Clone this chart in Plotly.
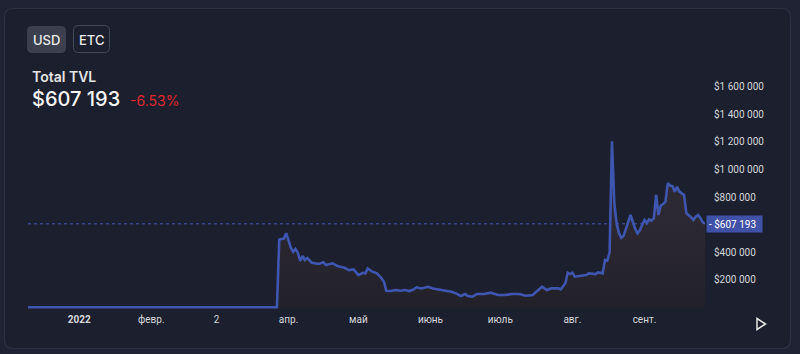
import plotly.graph_objects as go

# ---------------- data ----------------
dates = [
    "2021-12-10", "2022-01-15", "2022-02-15", "2022-03-27",
    "2022-03-28", "2022-03-30", "2022-03-31", "2022-04-02", "2022-04-03", "2022-04-04",
    "2022-04-05", "2022-04-06", "2022-04-07", "2022-04-08", "2022-04-09", "2022-04-11",
    "2022-04-14", "2022-04-16", "2022-04-17", "2022-04-20", "2022-04-22", "2022-04-25",
    "2022-04-27", "2022-04-29", "2022-05-01", "2022-05-03", "2022-05-04", "2022-05-05",
    "2022-05-07", "2022-05-09", "2022-05-11", "2022-05-12", "2022-05-13", "2022-05-15",
    "2022-05-17", "2022-05-19", "2022-05-21", "2022-05-23", "2022-05-25", "2022-05-26",
    "2022-05-28", "2022-05-31", "2022-06-02", "2022-06-05", "2022-06-08", "2022-06-10",
    "2022-06-12", "2022-06-14", "2022-06-16", "2022-06-17", "2022-06-19", "2022-06-21",
    "2022-06-24", "2022-06-27", "2022-06-30", "2022-07-03", "2022-07-06", "2022-07-09",
    "2022-07-12", "2022-07-15", "2022-07-16", "2022-07-19", "2022-07-21", "2022-07-23",
    "2022-07-26", "2022-07-27", "2022-07-29", "2022-07-30", "2022-07-31", "2022-08-01",
    "2022-08-02", "2022-08-05", "2022-08-07", "2022-08-08", "2022-08-11", "2022-08-12",
    "2022-08-14", "2022-08-15", "2022-08-16", "2022-08-17", "2022-08-18", "2022-08-19",
    "2022-08-20", "2022-08-21", "2022-08-22", "2022-08-23", "2022-08-24", "2022-08-25",
    "2022-08-26", "2022-08-27", "2022-08-28", "2022-08-29", "2022-08-30", "2022-08-31",
    "2022-09-01", "2022-09-02", "2022-09-03", "2022-09-04", "2022-09-05", "2022-09-06",
    "2022-09-07", "2022-09-08", "2022-09-09", "2022-09-10", "2022-09-11", "2022-09-12",
    "2022-09-13", "2022-09-14", "2022-09-15", "2022-09-16", "2022-09-17", "2022-09-18",
    "2022-09-19", "2022-09-20", "2022-09-21", "2022-09-22", "2022-09-23", "2022-09-24",
    "2022-09-25", "2022-09-26", "2022-09-27",
]
tvl_usd = [
    3000, 3000, 3000, 3000,
    493000, 500000, 539000, 432000, 405000, 425000,
    396000, 338000, 374000, 345000, 359000, 325000,
    316000, 328000, 309000, 321000, 301000, 288000,
    272000, 277000, 236000, 252000, 248000, 284000,
    260000, 248000, 212000, 187000, 122000, 120000,
    127000, 122000, 127000, 120000, 134000, 147000,
    139000, 151000, 139000, 132000, 120000, 115000,
    103000, 84000, 98000, 84000, 79000, 98000,
    98000, 108000, 91000, 91000, 98000, 98000,
    86000, 91000, 108000, 151000, 127000, 139000,
    139000, 132000, 176000, 253000, 243000, 253000,
    224000, 229000, 236000, 248000, 243000, 255000,
    248000, 345000, 340000, 400000, 1205000, 760000,
    610000, 540000, 505000, 520000, 570000, 611000,
    671000, 620000, 570000, 538000, 560000, 600000,
    635000, 611000, 640000, 630000, 647000, 816000,
    671000, 740000, 750000, 767000, 901000, 885000,
    881000, 840000, 876000, 840000, 830000, 816000,
    683000, 671000, 655000, 635000, 659000, 671000,
    650000, 620000, 607193,
]
x_tick_dates = ["2022-01-01", "2022-02-01", "2022-03-01", "2022-04-01", "2022-05-01",
                "2022-06-01", "2022-07-01", "2022-08-01", "2022-09-01"]
x_tick_labels = ["<b>2022</b>", "февр.", "2", "апр.", "май", "июнь", "июль", "авг.", "сент."]
y_tick_vals = [200000, 400000, 800000, 1000000, 1200000, 1400000, 1600000]
x_range = ["2021-12-10", "2022-09-27"]
y_range = [-31900, 1794000]

last_value = tvl_usd[-1]
change_pct = -6.53


def fmt_money(v):
    return "$" + f"{int(round(v)):,}".replace(",", " ")


# ---------------- geometry helpers ----------------
FW, FH = 800, 354
ML, MR, MT, MB = 28, 95, 60, 42
PW, PH = FW - ML - MR, FH - MT - MB


def px(x):
    return (x - ML) / PW


def py(y):
    return (FH - MB - y) / PH


def rounded_rect(x0, y0, x1, y1, r):
    pts = [
        f"M {px(x0 + r)},{py(y0)}",
        f"L {px(x1 - r)},{py(y0)}",
        f"Q {px(x1)},{py(y0)} {px(x1)},{py(y0 + r)}",
        f"L {px(x1)},{py(y1 - r)}",
        f"Q {px(x1)},{py(y1)} {px(x1 - r)},{py(y1)}",
        f"L {px(x0 + r)},{py(y1)}",
        f"Q {px(x0)},{py(y1)} {px(x0)},{py(y1 - r)}",
        f"L {px(x0)},{py(y0 + r)}",
        f"Q {px(x0)},{py(y0)} {px(x0 + r)},{py(y0)}",
        "Z",
    ]
    return " ".join(pts)


LINE = "#3f56b0"
TXT = "#d6d8de"
FONT = "Roboto"

fig = go.Figure()
fig.add_trace(go.Scatter(
    x=dates, y=tvl_usd, mode="lines",
    line=dict(color=LINE, width=2.6),
    fill="tozeroy",
    fillgradient=dict(type="vertical", start=0, stop=700000,
                      colorscale=[[0, "#22212a"], [1, "#2d2932"]]),
    hoverinfo="skip", showlegend=False,
))

shapes = [
    # card
    dict(type="path", xref="paper", yref="paper", layer="below",
         path=rounded_rect(4.5, 8.5, 790.5, 348.5, 9),
         fillcolor="#1c1f2d", line=dict(color="#2d3143", width=1.2)),
    # USD button (active)
    dict(type="path", xref="paper", yref="paper", layer="above",
         path=rounded_rect(27, 26, 66, 53, 5),
         fillcolor="#3b3f4e", line=dict(width=0)),
    # ETC button (outline)
    dict(type="path", xref="paper", yref="paper", layer="above",
         path=rounded_rect(73.5, 25.5, 109.5, 52.5, 5),
         fillcolor="rgba(0,0,0,0)", line=dict(color="#454a5a", width=1)),
    # last value dotted line
    dict(type="line", xref="paper", yref="y", x0=0, x1=1, y0=last_value, y1=last_value,
         line=dict(color="#4459b8", width=1, dash="dot"), layer="below"),
    # play icon
    dict(type="path", xref="paper", yref="paper", layer="above",
         path=f"M {px(757)},{py(318.5)} L {px(765.5)},{py(324)} L {px(757)},{py(329.5)} Z",
         fillcolor="rgba(0,0,0,0)", line=dict(color="#e6e6e6", width=1.5)),
]

annotations = [
    dict(text="USD", x=px(46.5), y=py(39.5), xref="paper", yref="paper", showarrow=False,
         xanchor="center", yanchor="middle",
         font=dict(family="Inter", size=13, color="#ececec", weight=500)),
    dict(text="ETC", x=px(91.5), y=py(39.5), xref="paper", yref="paper", showarrow=False,
         xanchor="center", yanchor="middle",
         font=dict(family="Inter", size=13, color="#ececec", weight=500)),
    dict(text="Total TVL", x=px(30), y=py(76), xref="paper", yref="paper", showarrow=False,
         xanchor="left", yanchor="middle",
         font=dict(family="Inter", size=14, color="#e4e4e4", weight=600)),
    dict(text=fmt_money(last_value), x=px(30), y=py(99), xref="paper", yref="paper", showarrow=False,
         xanchor="left", yanchor="middle",
         font=dict(family="Inter", size=20, color="#f4f4f4", weight=500)),
    dict(text=f"{change_pct:.2f}%", x=px(128), y=py(100), xref="paper", yref="paper", showarrow=False,
         xanchor="left", yanchor="middle", font=dict(family="Inter", size=14, color="#e0282e")),
    # price label
    dict(text="- " + fmt_money(last_value), x=px(706), y=last_value, xref="paper", yref="y",
         showarrow=False, xanchor="left", yanchor="middle", bgcolor="#3f52a8",
         borderpad=2, width=51, align="left",
         font=dict(family=FONT, size=10, color="#ffffff")),
]

fig.update_layout(
    width=FW, height=FH,
    margin=dict(l=ML, r=MR, t=MT, b=MB),
    paper_bgcolor="#1f2334",
    plot_bgcolor="rgba(0,0,0,0)",
    shapes=shapes,
    annotations=annotations,
    xaxis=dict(type="date", range=x_range, showgrid=False, zeroline=False, showline=False,
               tickvals=x_tick_dates, ticktext=x_tick_labels, ticks="",
               tickfont=dict(family=FONT, size=10, color=TXT), fixedrange=True),
    yaxis=dict(range=y_range, side="right", showgrid=False, zeroline=False, showline=False,
               tickvals=y_tick_vals, ticktext=[fmt_money(v) for v in y_tick_vals],
               ticks="", ticklabelstandoff=8,
               tickfont=dict(family=FONT, size=10, color=TXT), fixedrange=True),
    showlegend=False,
)

fig.write_html("out.html", config=dict(displayModeBar=False))
